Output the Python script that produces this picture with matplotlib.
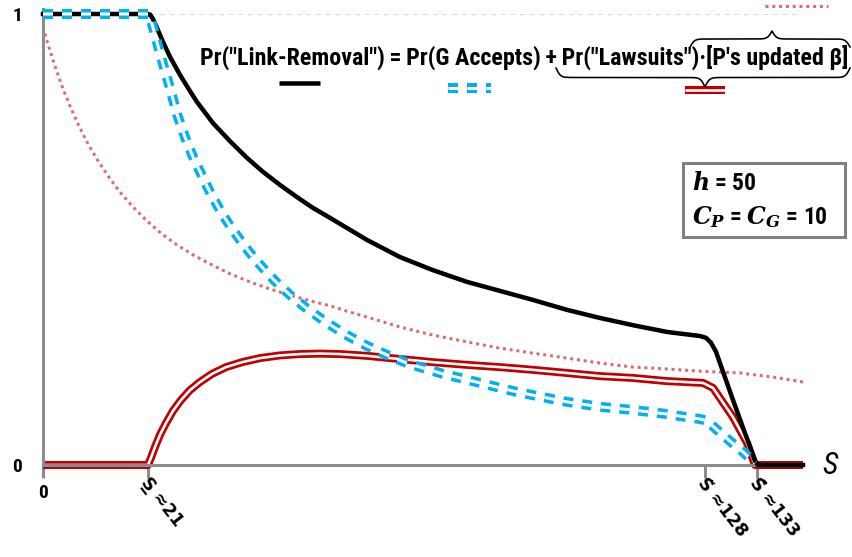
import numpy as np
import matplotlib
matplotlib.use("Agg")
import matplotlib.pyplot as plt
from matplotlib import font_manager
from matplotlib.patches import Rectangle

###############################################################################
# Data (S on the schematic axis of the figure, probabilities on [0, 1])

s_link = [0, 21, 21.4, 22, 22.8, 24, 25.4, 27.4, 29.4, 30.8, 34, 37.4, 40.8, 44, 47.4, 50.8,
          54, 57.4, 64.8, 71.4, 78, 84.8, 91.4, 98, 104.8, 111.4, 118, 124.8, 131.4, 132.6,
          133.6, 134.6, 138, 141.4, 142.4, 143, 152]
p_link = [1, 1, 0.999, 0.989, 0.969, 0.938, 0.905, 0.865, 0.829, 0.805, 0.758, 0.718, 0.681,
          0.650, 0.621, 0.594, 0.570, 0.548, 0.499, 0.461, 0.432, 0.406, 0.386, 0.366, 0.344,
          0.326, 0.310, 0.295, 0.286, 0.282, 0.271, 0.251, 0.144, 0.040, 0.009, 0, 0]

s_accept = [0, 21, 21.4, 22.2, 23, 24, 25.4, 26.8, 28.4, 30, 31.8, 33.4, 35.4, 37.4, 39.4,
            41.4, 43.8, 46.4, 49.4, 52.4, 55.4, 58.4, 61.4, 64.8, 68.8, 72.8, 76, 80, 83.4,
            87.4, 91.4, 94.8, 98.8, 104.8, 111.4, 118, 124.8, 128.8, 131.4, 132.8, 134.8,
            137.4, 140, 142.4]
p_accept = [1, 1, 0.993, 0.962, 0.929, 0.889, 0.836, 0.778, 0.727, 0.683, 0.641, 0.605,
            0.565, 0.530, 0.499, 0.470, 0.439, 0.408, 0.377, 0.350, 0.326, 0.304, 0.284,
            0.264, 0.244, 0.226, 0.215, 0.202, 0.193, 0.182, 0.171, 0.162, 0.153, 0.140,
            0.129, 0.122, 0.113, 0.106, 0.102, 0.098, 0.078, 0.053, 0.029, 0.004]

s_lawsuit = [0, 21, 21.6, 22.4, 23.4, 24.6, 26, 27.6, 29.4, 31.4, 33.8, 36.6, 39.8, 43.4,
             47.4, 51.4, 55.4, 59.4, 64.8, 71.4, 78, 84.8, 91.4, 98, 104.8, 111.4, 118,
             124.8, 132, 134, 138, 140.8, 142.4, 152]
p_lawsuit = [0, 0, 0.016, 0.040, 0.067, 0.093, 0.120, 0.144, 0.166, 0.184, 0.202, 0.217,
             0.228, 0.237, 0.243, 0.246, 0.247, 0.246, 0.242, 0.235, 0.228, 0.222, 0.217,
             0.211, 0.204, 0.197, 0.193, 0.186, 0.182, 0.171, 0.106, 0.049, 0, 0]

s_beta = [0, 1, 2, 3, 4, 5.4, 7, 8.8, 10.8, 13, 15.4, 18, 20.8, 23.8, 26.8, 30, 33.4, 37.4,
          41.4, 45.4, 49.4, 53.4, 57.4, 61.4, 64.8, 71.4, 78, 84.8, 91.4, 98, 104.8, 111.4,
          118, 124.8, 131.4, 139.4, 146, 152]
p_beta = [0.971, 0.933, 0.898, 0.865, 0.834, 0.796, 0.756, 0.716, 0.678, 0.641, 0.605, 0.572,
          0.541, 0.512, 0.488, 0.466, 0.446, 0.424, 0.406, 0.390, 0.377, 0.364, 0.353, 0.339,
          0.328, 0.306, 0.288, 0.273, 0.259, 0.248, 0.237, 0.226, 0.217, 0.213, 0.208, 0.204,
          0.195, 0.184]

x_ticks = [0, 21, 132.3, 142.7]
x_tick_text = ['S\u0332 \u224821', 'S\u0303 \u2248128', 'S\u0304 \u2248133']

EQUATION = ('Pr("Link-Removal")\u2009=\u2009Pr(G Accepts)\u2009+\u2009'
            'Pr("Lawsuits")\u00b7[P\'s updated \u03b2]')

###############################################################################
# Style

PX = 0.72          # points per pixel at dpi 100
GRAY = '#8C8C8C'
BLUE = '#00B0F0'
RED = '#C00000'
PINK = '#E06A6A'

names = {f.name for f in font_manager.fontManager.ttflist}
FONT = next((f for f in ['Liberation Sans Narrow', 'Roboto Condensed', 'Lato'] if f in names),
            'DejaVu Sans')
plt.rcParams['font.family'] = [FONT, 'DejaVu Sans']
plt.rcParams['lines.scale_dashes'] = False
plt.rcParams['mathtext.fontset'] = 'custom'
plt.rcParams['mathtext.it'] = 'DejaVu Serif:italic:bold'
plt.rcParams['mathtext.rm'] = 'DejaVu Sans:bold'

DASH = (0, (10 * PX, 9 * PX))
DOTS = (0, (3 * PX, 3.8 * PX))


def double_line(axis, x, y, color, outer, inner, ls='-', z=2):
    axis.plot(x, y, color=color, lw=outer * PX, ls=ls, zorder=z, clip_on=False,
              solid_joinstyle='round', dash_capstyle='butt', solid_capstyle='butt')
    axis.plot(x, y, color='white', lw=inner * PX, ls=ls, zorder=z, clip_on=False,
              solid_joinstyle='round', dash_capstyle='butt', solid_capstyle='butt')


def brace(axis, x0, x1, xm, y0, h, k=0.45):
    # curly brace in pixel space, ends at y0, tip at y0 + h
    xl = np.linspace(x0, xm, 200)
    fl = 1 / (1 + np.exp(-k * (xl - x0))) + 1 / (1 + np.exp(-k * (xl - xm)))
    xr = np.linspace(xm, x1, 200)
    fr = 1 / (1 + np.exp(k * (xr - x1))) + 1 / (1 + np.exp(k * (xr - xm)))
    xs = np.concatenate([xl, xr])
    fs = np.concatenate([fl, fr]) - 0.5
    axis.plot(xs, y0 + h * fs, color='black', lw=1.6 * PX)


fig = plt.figure(figsize=(8.52, 5.57), dpi=100)
ax = fig.add_axes([43 / 852, 92 / 557, 760 / 852, 451 / 557])
ax.set_xlim(0, 152)
ax.set_ylim(0, 1)

for side in ['top', 'right']:
    ax.spines[side].set_visible(False)
for side in ['left', 'bottom']:
    ax.spines[side].set_color(GRAY)
    ax.spines[side].set_linewidth(3 * PX)
ax.spines['bottom'].set_bounds(0, x_ticks[-1])
ax.spines['left'].set_bounds(0, 1.01)

ax.set_xticks(x_ticks)
ax.set_xticklabels(['0', '', '', ''])
ax.tick_params(axis='x', length=13 * PX, width=3 * PX, color=GRAY, labelsize=14, pad=4)
ax.set_yticks([0, 1])
ax.set_yticklabels(['0', '1'])
ax.tick_params(axis='y', length=0, labelsize=14, pad=15)
for lbl in ax.get_xticklabels() + ax.get_yticklabels():
    lbl.set_fontweight('bold')

ax.axhline(1, color='#D9D9D9', lw=1 * PX, ls=(0, (4, 3)), zorder=1)

# curves
ax.plot(s_beta, p_beta, color=PINK, lw=3 * PX, ls=DOTS, zorder=1.5, clip_on=False)
double_line(ax, s_lawsuit, p_lawsuit, RED, 8, 2.6, z=2)
ax.plot(s_link, p_link, color='black', lw=4.5 * PX, zorder=3, clip_on=False,
        solid_joinstyle='round')
double_line(ax, s_accept, p_accept, BLUE, 10, 3, ls=DASH, z=4)

for x, t in zip(x_ticks[1:], x_tick_text):
    ax.text(x - 0.8, -0.033, t, rotation=-52, rotation_mode='anchor', ha='left',
            va='center', fontsize=12.5, fontweight='bold', family='DejaVu Sans')
ax.text(157.4, 0, 'S', fontsize=22, fontstyle='italic', ha='center', va='center')

###############################################################################
# Legend equation, braces and parameter box drawn in pixel space

ov = fig.add_axes([0, 0, 1, 1])
ov.set_xlim(0, 852)
ov.set_ylim(557, 0)
ov.axis('off')
ov.patch.set_visible(False)

eq = ov.text(200, 57, EQUATION, fontsize=16, fontweight='bold', ha='left', va='center')
fig.canvas.draw()
w = eq.get_window_extent(renderer=fig.canvas.get_renderer()).width
eq.set_fontsize(16 * 648 / w)

ov.plot([279, 320], [83, 83], color='black', lw=4.5 * PX, solid_capstyle='butt')
double_line(ov, [448, 491], [88, 88], BLUE, 10, 3, ls=DASH)
double_line(ov, [685, 725], [90, 90], RED, 8, 2.6)
ov.plot([765, 828], [6, 6], color=PINK, lw=3 * PX, ls=DOTS)

brace(ov, 556, 850, 705, 68, 19)
brace(ov, 690, 850, 772, 47, -16)

ov.add_patch(Rectangle((683, 163), 162, 74, facecolor='white', edgecolor='#808080',
                       lw=3 * PX))
ov.text(692, 184, r'$h$ = 50', fontsize=17, fontweight='bold', ha='left', va='center')
ov.text(692, 217, r'$C_P$ = $C_G$ = 10', fontsize=17, fontweight='bold', ha='left',
        va='center')

fig.savefig('out.png', dpi=100)
